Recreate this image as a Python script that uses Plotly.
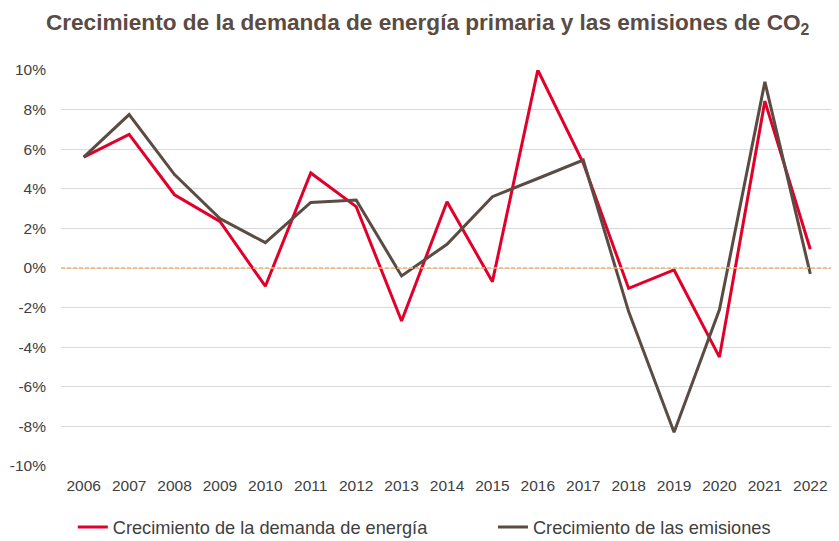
import plotly.graph_objects as go

years = [str(y) for y in range(2006, 2023)]
demanda = [5.6, 6.75, 3.7, 2.35, -0.92, 4.8, 3.1, -2.68, 3.35, -0.69, 10.0, 5.3, -1.03, -0.1, -4.5, 8.43, 0.95]
emisiones = [5.6, 7.75, 4.72, 2.5, 1.28, 3.31, 3.43, -0.4, 1.2, 3.6, 4.52, 5.45, -2.2, -8.3, -2.1, 9.4, -0.3]

y_ticks = [-10, -8, -6, -4, -2, 0, 2, 4, 6, 8, 10]
y_tick_labels = [f"{v}%" for v in y_ticks]

RED = "#E2002B"
DARK = "#5A4B43"
FONT = "Liberation Sans, Arial, sans-serif"

fig = go.Figure()
fig.add_hline(y=0, line=dict(color="#F8B26A", width=1.6, dash="4px,2px"), layer="above")
fig.add_trace(go.Scatter(x=years, y=demanda, mode="lines", name="Crecimiento de la demanda de energía",
                         line=dict(color=RED, width=3), legend="legend"))
fig.add_trace(go.Scatter(x=years, y=emisiones, mode="lines", name="Crecimiento de las emisiones",
                         line=dict(color=DARK, width=3), legend="legend2"))

legend_common = dict(orientation="h", xanchor="left", xref="container", yref="container",
                     yanchor="middle", y=0.026, itemwidth=30, bgcolor="rgba(0,0,0,0)",
                     font=dict(family=FONT, size=18.2, color="#404040"))

fig.update_layout(
    width=831, height=533,
    paper_bgcolor="white", plot_bgcolor="white",
    margin=dict(l=53, r=6, t=62, b=75, autoexpand=False),
    font=dict(family=FONT, color="#404040", size=15),
    title=dict(text="<b>Crecimiento de la demanda de energía primaria y las emisiones de CO<sub>2</sub></b>",
               x=0.505, xanchor="center", xref="container", yref="container", y=0.974, yanchor="middle",
               font=dict(family=FONT, size=22.6, color="#5A4B43")),
    showlegend=True,
    legend=dict(legend_common, x=0.078),
    legend2=dict(legend_common, x=0.5836),
    xaxis=dict(type="category", range=[-0.5, 16.5], showgrid=False, showline=False,
               ticks="", tickfont=dict(size=15.5, color="#404040"), ticklabelstandoff=8),
    yaxis=dict(range=[-10, 10], tickvals=y_ticks, ticktext=y_tick_labels,
               showgrid=True, gridcolor="#D9D9D9", gridwidth=1, zeroline=False,
               showline=False, ticks="", tickfont=dict(size=15.5, color="#404040"),
               ticklabelstandoff=14),
)

fig.write_html("out.html")
